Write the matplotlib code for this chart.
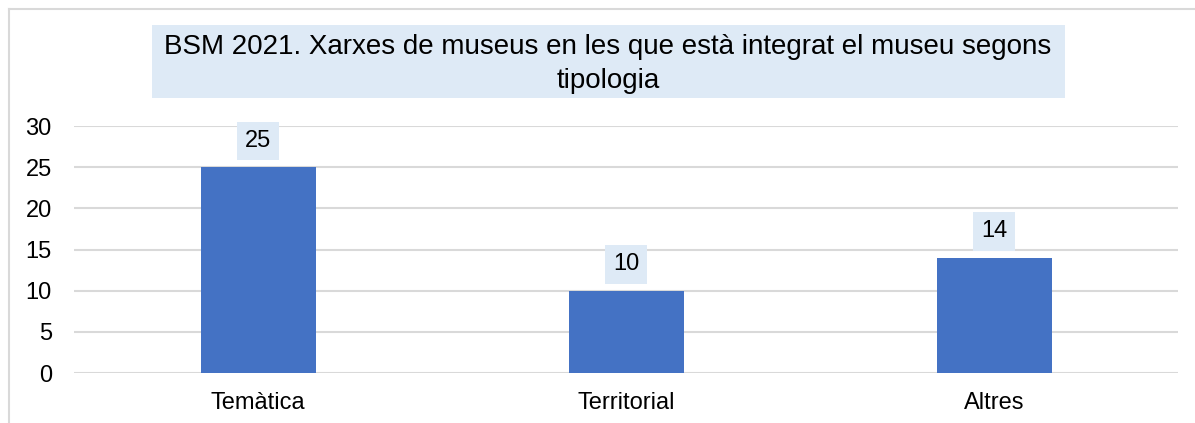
import matplotlib
matplotlib.use('Agg')
import matplotlib.pyplot as plt
from matplotlib.patches import Rectangle
from matplotlib.lines import Line2D

CATEGORIES = ['Temàtica', 'Territorial', 'Altres']
VALUES = [25, 10, 14]
TITLE = 'BSM 2021. Xarxes de museus en les que està integrat el museu segons\ntipologia'

W, H = 1195, 423
BAR_COLOR = '#4472C4'
BOX_COLOR = '#DEEAF6'
GRID_COLOR = '#D9D9D9'

plt.rcParams['font.family'] = ['Liberation Sans', 'DejaVu Sans']

fig = plt.figure(figsize=(W / 100, H / 100), dpi=100)

# chart frame (only top and left edges visible in the crop)
fig.add_artist(Line2D([9 / W, 9 / W], [0, 1 - 9 / H], color=GRID_COLOR, lw=1.5))
fig.add_artist(Line2D([9 / W, 1], [1 - 9 / H, 1 - 9 / H], color=GRID_COLOR, lw=1.5))

# title box
fig.add_artist(Rectangle((152 / W, 1 - 98 / H), (1065 - 152) / W, (98 - 25) / H,
                         transform=fig.transFigure, facecolor=BOX_COLOR, edgecolor='none'))
fig.text(608 / W, 1 - 64 / H, TITLE, ha='center', va='center', fontsize=20,
         linespacing=1.4, multialignment='center')

ax = fig.add_axes([74 / W, 1 - 373 / H, (1178 - 74) / W, (373 - 126) / H])
x = range(len(CATEGORIES))
bars = ax.bar(x, VALUES, width=0.3125, color=BAR_COLOR, zorder=3)

for xi, v in zip(x, VALUES):
    ax.annotate(str(v), (xi, v), xytext=(0, 19), textcoords='offset points',
                ha='center', va='center', fontsize=17,
                bbox=dict(boxstyle='square,pad=0.35', facecolor=BOX_COLOR, edgecolor='none'))

ax.set_xlim(-0.5, 2.5)
ax.set_ylim(0, 30)
ax.set_yticks(range(0, 31, 5))
ax.set_xticks(list(x))
ax.set_xticklabels(CATEGORIES)
ax.tick_params(axis='both', length=0, labelsize=17, colors='black')
ax.tick_params(axis='x', pad=14)
ax.tick_params(axis='y', pad=16)
ax.grid(axis='y', color=GRID_COLOR, lw=1.5, zorder=0)
for s in ax.spines.values():
    s.set_visible(False)
ax.set_facecolor('none')

fig.savefig('out.png', dpi=100)
